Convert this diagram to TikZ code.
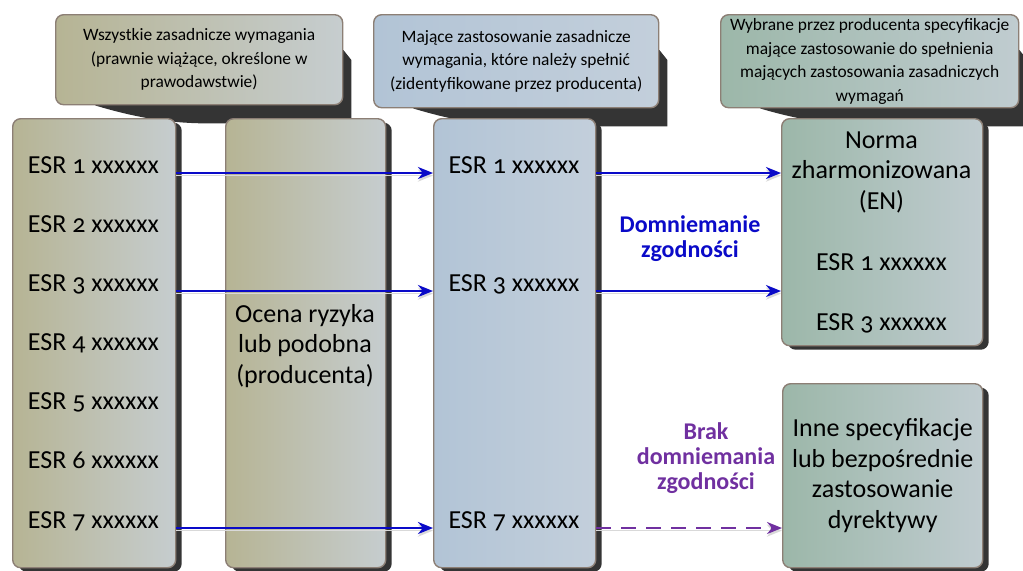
\documentclass[tikz,border=0pt]{standalone}
\usepackage{fontspec}
\setmainfont{Carlito}[Numbers=OldStyle]
\usepackage{tikz}
\usetikzlibrary{arrows.meta,shapes,positioning,shadows,calc,backgrounds}
\definecolor{olivea}{RGB}{182,180,148}
\definecolor{oliveb}{RGB}{198,205,207}
\definecolor{bluea}{RGB}{178,196,214}
\definecolor{blueb}{RGB}{195,207,219}
\definecolor{greena}{RGB}{156,183,169}
\definecolor{greenb}{RGB}{192,204,208}
\definecolor{boxline}{RGB}{140,127,117}
\definecolor{shadowgray}{RGB}{52,52,52}
\definecolor{esrblue}{RGB}{10,10,200}
\definecolor{esrpurple}{RGB}{112,48,160}
\tikzstyle{arrow} = [line width=1.4pt,->,>={Stealth[length=7.5pt,width=6pt]},color=esrblue,preaction={draw=black!15,transform canvas={yshift=-1.3pt}}]
\tikzstyle{dasharrow} = [arrow, color=esrpurple, dash pattern=on 7.5pt off 5pt]
\tikzstyle{hdrbox} = [rectangle, rounded corners=4pt, anchor=north west, draw=boxline, line width=0.7pt, align=center, inner sep=0pt, font=\fontsize{8.7}{11.75}\selectfont]
\tikzstyle{colbox} = [rectangle, rounded corners=4pt, anchor=north west, draw=boxline, line width=0.7pt, drop shadow={shadow xshift=3pt, shadow yshift=-2pt, fill=shadowgray, opacity=1}]
\tikzstyle{esr} = [anchor=base, inner sep=0pt, font=\fontsize{13}{15.5}\selectfont]
\tikzstyle{note} = [align=center, inner sep=0pt, font=\fontsize{13}{15.25}\selectfont]
\tikzstyle{verdict} = [align=center, inner sep=0pt, font=\bfseries\fontsize{12}{12.5}\selectfont]

\begin{document}
\begin{tikzpicture}[x=0.5pt,y=-0.5pt]
\useasboundingbox (0,0) rectangle (1023,570);

% Headers
\node[hdrbox, left color=olivea, right color=oliveb, minimum width=143.5pt, minimum height=45pt] (hall) at (55,14) {Wszystkie zasadnicze wymagania\\(prawnie wiążące, określone w\\prawodawstwie)};
\node[hdrbox, left color=bluea, right color=blueb, minimum width=142.5pt, minimum height=46.5pt] (happ) at (373,14) {Mające zastosowanie zasadnicze\\wymagania, które należy spełnić\\(zidentyfikowane przez producenta)};
\node[hdrbox, left color=greena, right color=greenb, minimum width=149pt, minimum height=46.5pt] (hspec) at (720,14) {Wybrane przez producenta specyfikacje\\mające zastosowanie do spełnienia\\mających zastosowania zasadniczych\\wymagań};

% Columns
\node[colbox, left color=olivea, right color=oliveb, minimum width=81.5pt, minimum height=224.5pt] (all) at (12,118) {};
\node[colbox, left color=olivea, right color=oliveb, minimum width=80pt, minimum height=224.5pt] (risk) at (225,118) {};
\node[colbox, left color=bluea, right color=blueb, minimum width=81pt, minimum height=224.5pt] (app) at (433,118) {};
\node[colbox, left color=greena, right color=greenb, minimum width=100.5pt, minimum height=113.5pt] (norma) at (781,118) {};
\node[colbox, left color=greena, right color=greenb, minimum width=100pt, minimum height=92pt, align=center, font=\fontsize{13}{15.25}\selectfont] (other) at (782,383) {Inne specyfikacje\\lub bezpośrednie\\zastosowanie\\dyrektywy};

% Header shadows
\begin{scope}[on background layer]
\foreach \h in {hall,happ,hspec}
  \fill[shadowgray] ($(\h.south west)+(40,0)$) .. controls ($(\h.south west)+(80,12)$) and ($(\h.south)+(-30,18)$) .. ($(\h.south)+(10,18)$) -- ($(\h.south east)+(8,18)$) -- ($(\h.north east)+(8,46)$) -- ($(\h.north east)+(0,36)$) -- cycle;
\end{scope}

% ESR lists
\node[esr] (a1) at (93.5,173) {ESR 1 xxxxxx};
\node[esr] (a2) at (93.5,232) {ESR 2 xxxxxx};
\node[esr] (a3) at (93.5,291) {ESR 3 xxxxxx};
\node[esr] (a4) at (93.5,350) {ESR 4 xxxxxx};
\node[esr] (a5) at (93.5,409) {ESR 5 xxxxxx};
\node[esr] (a6) at (93.5,468) {ESR 6 xxxxxx};
\node[esr] (a7) at (93.5,528) {ESR 7 xxxxxx};
\node[note] (riskt) at (305,346) {Ocena ryzyka\\lub podobna\\(producenta)};
\node[esr] (b1) at (514,173) {ESR 1 xxxxxx};
\node[esr] (b3) at (514,291) {ESR 3 xxxxxx};
\node[esr] (b7) at (514,528) {ESR 7 xxxxxx};
\node[note] (normat) at (881.5,172) {Norma\\zharmonizowana\\(EN)};
\node[esr] (n1) at (881.5,270) {ESR 1 xxxxxx};
\node[esr] (n3) at (881.5,330) {ESR 3 xxxxxx};

% Labels
\node[verdict, text=esrblue] (presum) at (690,239) {Domniemanie\\zgodności};
\node[verdict, text=esrpurple] (nopresum) at (706,458) {Brak\\domniemania\\zgodności};

% Arrows
\draw[arrow] (a1.base -| all.east) -- (b1.base -| app.west);
\draw[arrow] (a3.base -| all.east) -- (b3.base -| app.west);
\draw[arrow] (a7.base -| all.east) -- (b7.base -| app.west);
\draw[arrow] (b1.base -| app.east) -- (b1.base -| norma.west);
\draw[arrow] (b3.base -| app.east) -- (b3.base -| norma.west);
\draw[dasharrow] (b7.base -| app.east) -- (b7.base -| other.west);
\end{tikzpicture}
\end{document}
